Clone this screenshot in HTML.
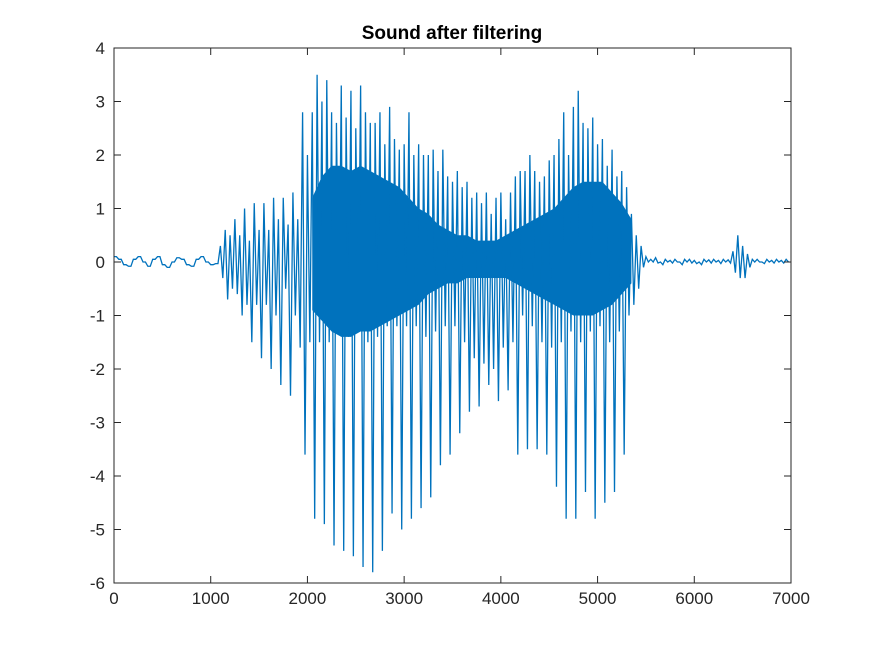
<!DOCTYPE html>
<html><head><meta charset="utf-8"><style>
body{margin:0;background:#fff}
svg text{font-family:"Liberation Sans",Arial,sans-serif}
</style></head><body>
<svg id="chart" width="875" height="656" viewBox="0 0 875 656" xmlns="http://www.w3.org/2000/svg">
<rect width="875" height="656" fill="#fff"/>
<text x="452" y="39" text-anchor="middle" font-size="19" font-weight="bold" fill="#000">Sound after filtering</text>
<g id="marks"></g>
<rect x="114" y="48" width="677" height="535" fill="none" stroke="#262626" stroke-width="1"/>
<g id="axes"></g>
</svg>
<script>
const xTicks=[0,1000,2000,3000,4000,5000,6000,7000];
const yTicks=[-6,-5,-4,-3,-2,-1,0,1,2,3,4];
const binSize=50;
const binHi=[0.1,0.05,-0.05,-0.08,0.05,0.1,0,-0.08,0.05,0.1,-0.05,-0.1,0,0.08,0.05,-0.05,-0.08,0.05,0.1,0,-0.05,-0.03,
0.3,0.6,0.5,0.8,0.5,1.0,0.4,1.1,0.6,1.1,0.6,1.2,0.8,1.2,0.7,1.3,0.8,
2.8,2.0,2.8,3.5,3.0,3.4,2.8,2.6,3.3,2.7,3.2,2.5,3.3,2.8,2.6,2.6,2.8,2.2,2.9,2.3,2.1,2.2,2.8,2.0,2.2,2.0,2.0,2.1,1.7,2.1,1.6,1.5,1.7,1.4,1.5,1.2,1.3,1.1,1.3,0.9,
1.2,1.3,0.8,1.3,1.6,1.7,1.7,2.0,1.7,1.5,1.6,1.9,2.0,2.3,2.8,2.0,2.9,3.2,2.6,2.5,2.7,2.2,2.3,1.8,2.1,1.6,1.7,1.4,0.9,0.5,0.3,
0.1,0.05,0.08,0,0.05,0.03,0.05,0,0.05,0.05,0.03,0,0.05,0.04,0.05,0.03,0.05,0.04,0.2,0.5,0.3,0.15,0.05,0.05,0,0.05,0.03,0.05,0.03,0.05];
const binLo=[0.1,0.05,-0.05,-0.08,0.05,0.1,0,-0.08,0.05,0.1,-0.05,-0.1,0,0.08,0.05,-0.05,-0.08,0.05,0.1,0,-0.05,-0.03,
-0.3,-0.7,-0.5,-0.6,-1.0,-0.8,-1.5,-0.8,-1.8,-0.8,-2.0,-1.0,-2.3,-0.5,-2.5,-1.0,-1.6,
-3.6,-1.5,-4.8,-1.5,-4.9,-1.5,-5.3,-1.3,-5.4,-1.4,-5.5,-1.2,-5.7,-1.5,-5.8,-1.4,-5.4,-1.2,-4.7,-1.2,-5.0,-1.2,-4.8,-1.2,-4.6,-1.4,-4.4,-1.3,-3.8,-1.2,-3.6,-1.2,-3.2,-1.5,-2.8,-1.8,-2.7,-1.9,-2.3,-2.0,
-2.6,-1.6,-2.4,-1.5,-3.6,-1.0,-3.5,-1.2,-3.5,-1.5,-3.6,-1.6,-4.2,-1.5,-4.8,-1.3,-4.8,-1.5,-4.3,-1.3,-4.8,-1.2,-4.5,-1.5,-4.3,-1.3,-3.6,-1.0,-0.8,-0.5,-0.1,
0,0,-0.02,-0.05,0,-0.02,0,-0.05,0,-0.02,-0.03,-0.05,0,-0.02,0,-0.03,0,-0.02,-0.2,-0.3,-0.3,-0.1,0,0,-0.03,0,-0.02,0,-0.02,0];
/* dense core band, 100-sample bins starting at 2000 */
const bandStart=2000, bandSize=100;
const bandHi=[1.2,1.6,1.8,1.8,1.7,1.8,1.7,1.6,1.5,1.4,1.2,1.0,0.9,0.7,0.6,0.5,0.5,0.4,0.4,0.4,0.5,0.6,0.7,0.8,0.9,1.0,1.2,1.4,1.5,1.5,1.5,1.3,1.1,0.8];
const bandLo=[-0.9,-1.1,-1.3,-1.4,-1.4,-1.3,-1.3,-1.2,-1.1,-1.0,-0.9,-0.8,-0.6,-0.5,-0.4,-0.4,-0.3,-0.3,-0.3,-0.3,-0.3,-0.4,-0.5,-0.6,-0.7,-0.8,-0.9,-1.0,-1.0,-1.0,-0.9,-0.8,-0.6,-0.4];
const X0=114,X1=791,Y0=583,Y1=48;
const xs=v=>X0+(v-0)/(7000-0)*(X1-X0);
const ys=v=>Y0-(v-(-6))/(4-(-6))*(Y0-Y1);
const NS="http://www.w3.org/2000/svg";
const marks=document.getElementById("marks");
let bp=[];
for(let i=0;i<bandHi.length;i++){bp.push(xs(bandStart+i*bandSize+bandSize/2).toFixed(2)+","+ys(bandHi[i]).toFixed(2));}
for(let i=bandLo.length-1;i>=0;i--){bp.push(xs(bandStart+i*bandSize+bandSize/2).toFixed(2)+","+ys(bandLo[i]).toFixed(2));}
const band=document.createElementNS(NS,"polygon");


band.setAttribute("points",bp.join(" "));
band.setAttribute("fill","#0072bd");
marks.appendChild(band);
let pts=[];
for(let i=0;i<binHi.length;i++){
  const s=i*binSize;
  pts.push(xs(s).toFixed(2)+","+ys(binHi[i]).toFixed(2));
  pts.push(xs(s+binSize/2).toFixed(2)+","+ys(binLo[i]).toFixed(2));
}
const pl=document.createElementNS(NS,"polyline");


pl.setAttribute("points",pts.join(" "));
pl.setAttribute("fill","none");pl.setAttribute("stroke","#0072bd");pl.setAttribute("stroke-width","1.3");
marks.appendChild(pl);
const ax=document.getElementById("axes");
xTicks.forEach(t=>{
  const x=xs(t);
  [[Y0,Y0-7],[Y1,Y1+7]].forEach(([a,b])=>{
    const l=document.createElementNS(NS,"line");
    
    
    l.setAttribute("x1",x);l.setAttribute("x2",x);l.setAttribute("y1",a);l.setAttribute("y2",b);l.setAttribute("stroke","#262626");ax.appendChild(l);
  });
  const tx=document.createElementNS(NS,"text");
  
  
  tx.setAttribute("x",x);tx.setAttribute("y",Y0+21);tx.setAttribute("text-anchor","middle");tx.setAttribute("font-size","17");tx.setAttribute("fill","#262626");
  tx.textContent=t;ax.appendChild(tx);
});
yTicks.forEach(t=>{
  const y=ys(t);
  [[X0,X0+7],[X1,X1-7]].forEach(([a,b])=>{
    const l=document.createElementNS(NS,"line");
    
    
    l.setAttribute("x1",a);l.setAttribute("x2",b);l.setAttribute("y1",y);l.setAttribute("y2",y);l.setAttribute("stroke","#262626");ax.appendChild(l);
  });
  const tx=document.createElementNS(NS,"text");
  
  
  tx.setAttribute("x",X0-9);tx.setAttribute("y",y+6);tx.setAttribute("text-anchor","end");tx.setAttribute("font-size","17");tx.setAttribute("fill","#262626");
  tx.textContent=t;ax.appendChild(tx);
});
</script>
</body></html>
